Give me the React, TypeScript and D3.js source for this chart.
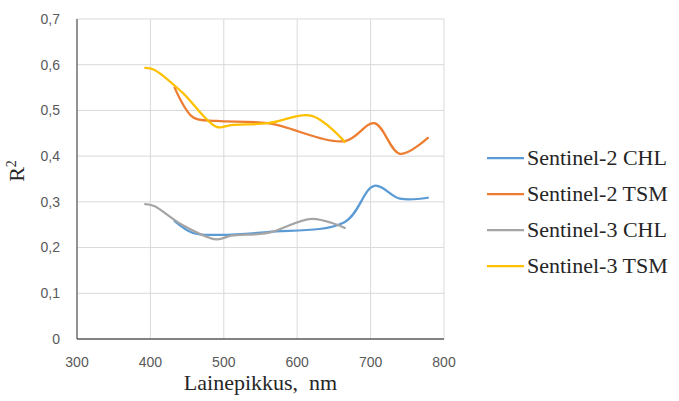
import * as d3 from 'd3';

// wavelengths (nm) and R² values
const s2Wave = [433, 458, 490, 560, 665, 705, 740, 778];
const s2Chl = [0.258, 0.232, 0.228, 0.234, 0.256, 0.335, 0.307, 0.309];
const s2Tsm = [0.55, 0.485, 0.477, 0.472, 0.433, 0.472, 0.405, 0.44];

const s3Wave = [393, 405, 443, 490, 510, 560, 620, 665];
const s3Chl = [0.295, 0.291, 0.25, 0.218, 0.226, 0.232, 0.263, 0.243];
const s3Tsm = [0.593, 0.589, 0.54, 0.464, 0.468, 0.472, 0.488, 0.431];

const xTicks = [300, 400, 500, 600, 700, 800];
const yTicks = [0, 0.1, 0.2, 0.3, 0.4, 0.5, 0.6, 0.7];

const series = [
  { name: 'Sentinel-2 CHL', wave: s2Wave, vals: s2Chl, color: '#5B9BD5' },
  { name: 'Sentinel-2 TSM', wave: s2Wave, vals: s2Tsm, color: '#ED7D31' },
  { name: 'Sentinel-3 CHL', wave: s3Wave, vals: s3Chl, color: '#A5A5A5' },
  { name: 'Sentinel-3 TSM', wave: s3Wave, vals: s3Tsm, color: '#FFC000' },
];

const W = 679;
const H = 401;
const left = 77;
const right = 444;
const top = 19;
const bottom = 339;

export default function App() {
  const x = d3.scaleLinear().domain([300, 800]).range([left, right]);
  const y = d3.scaleLinear().domain([0, 0.7]).range([bottom, top]);

  const line = d3
    .line<[number, number]>()
    .x(d => x(d[0]))
    .y(d => y(d[1]))
    .curve(d3.curveCatmullRom.alpha(0.5));

  const fmt = (v: number) => (v === 0 ? '0' : d3.format('.1f')(v).replace('.', ','));

  return (
    <svg
      width={W}
      height={H}
      style={{ position: 'absolute', left: 0, top: 0, background: '#fff' }}
    >
      {/* grid */}
      {yTicks.slice(1).map(t => (
        <line key={'gy' + t} x1={left} x2={right} y1={y(t)} y2={y(t)} stroke="#D9D9D9" strokeWidth={1} />
      ))}
      {xTicks.slice(1).map(t => (
        <line key={'gx' + t} x1={x(t)} x2={x(t)} y1={top} y2={bottom} stroke="#D9D9D9" strokeWidth={1} />
      ))}

      {/* axes */}
      <line x1={left} x2={left} y1={top} y2={bottom} stroke="#595959" strokeWidth={1.3} />
      <line x1={left} x2={right} y1={bottom} y2={bottom} stroke="#595959" strokeWidth={1.3} />

      {yTicks.map(t => (
        <text
          key={'ty' + t}
          x={60}
          y={y(t)}
          dy="0.35em"
          textAnchor="end"
          fontFamily="Liberation Sans, Arial, sans-serif"
          fontSize={14}
          fill="#595959"
        >
          {fmt(t)}
        </text>
      ))}
      {xTicks.map(t => (
        <text
          key={'tx' + t}
          x={x(t)}
          y={367}
          textAnchor="middle"
          fontFamily="Liberation Sans, Arial, sans-serif"
          fontSize={14}
          fill="#595959"
        >
          {t}
        </text>
      ))}

      {/* titles */}
      <text
        x={(left + right) / 2}
        y={390}
        textAnchor="middle"
        fontFamily="Liberation Serif, Times New Roman, serif"
        fontSize={22}
        fill="#262626"
        style={{ whiteSpace: 'pre' }}
      >
        {'Lainepikkus,  nm'}
      </text>
      <text
        transform={`translate(24, ${(top + bottom) / 2 - 8}) rotate(-90)`}
        textAnchor="middle"
        fontFamily="Liberation Serif, Times New Roman, serif"
        fontSize={22}
        fill="#262626"
      >
        R<tspan fontSize={14} dy={-8}>2</tspan>
      </text>

      {/* lines */}
      {series.map(s => (
        <path
          key={s.name}
          d={line(s.wave.map((w, i) => [w, s.vals[i]] as [number, number])) || ''}
          fill="none"
          stroke={s.color}
          strokeWidth={2.25}
          strokeLinecap="round"
          strokeLinejoin="round"
        />
      ))}

      {/* legend */}
      {series.map((s, i) => {
        const ly = 158 + i * 36;
        return (
          <g key={'lg' + s.name}>
            <line x1={487} x2={524} y1={ly} y2={ly} stroke={s.color} strokeWidth={2.25} />
            <text
              x={527}
              y={ly}
              dy="0.33em"
              fontFamily="Liberation Serif, Times New Roman, serif"
              fontSize={22}
              fill="#262626"
            >
              {s.name}
            </text>
          </g>
        );
      })}
    </svg>
  );
}
